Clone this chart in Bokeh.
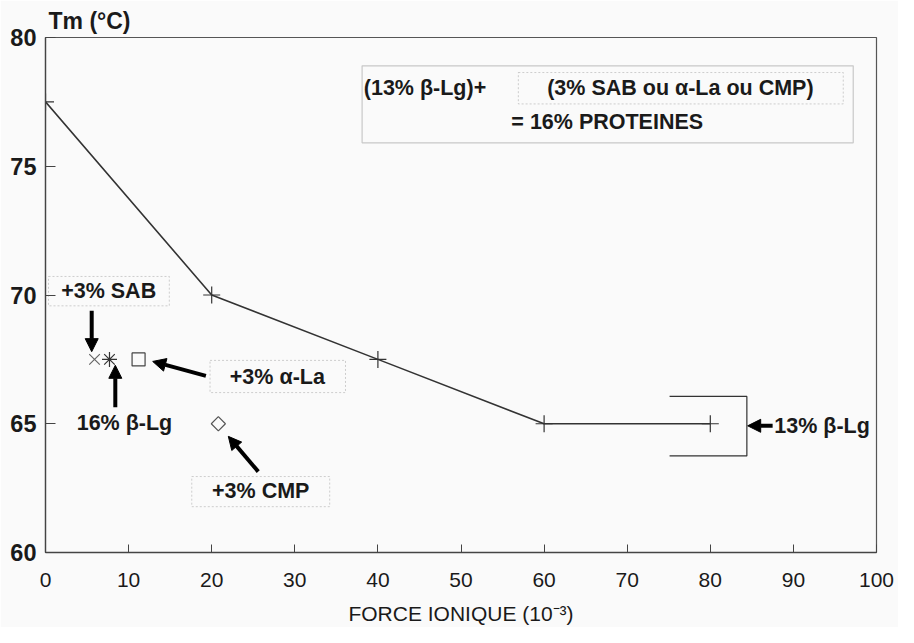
from bokeh.plotting import figure
from bokeh.models import Arrow, NormalHead, Label, FixedTicker, Range1d, BoxAnnotation
from bokeh.embed import file_html
from bokeh.resources import INLINE

# ---- data ----
ionic = [0, 20, 40, 60, 80]
tm = [77.5, 70, 67.5, 65, 65]

sab_x, sab_y = [5.9], [67.5]        # +3% SAB (x)
blg16_x, blg16_y = [7.7], [67.5]    # 16% beta-Lg (asterisk)
ala_x, ala_y = [11.2], [67.5]       # +3% alpha-La (square)
cmp_x, cmp_y = [20.8], [65]         # +3% CMP (diamond)

x_ticks = [0, 10, 20, 30, 40, 50, 60, 70, 80, 90, 100]
y_ticks = [60, 65, 70, 75, 80]

FONT = "Liberation Sans"
INK = "#1a1a1a"
LINE = "#333333"

p = figure(width=898, height=627, x_range=Range1d(0, 100), y_range=Range1d(60, 80),
           output_backend="svg", toolbar_location=None,
           min_border_left=45, min_border_right=22, min_border_top=37, min_border_bottom=75)
p.background_fill_color = "#fafafa"
p.border_fill_color = "#fafafa"
p.outline_line_color = "#555555"
p.outline_line_width = 1.2
p.grid.visible = False

p.title.text = "Tm (°C)"
p.title.align = "left"
p.title.offset = 3
p.title.standoff = 8
p.title.text_font = FONT
p.title.text_font_style = "bold"
p.title.text_font_size = "23px"
p.title.text_color = INK

for ax in (p.xaxis[0], p.yaxis[0]):
    ax.axis_line_color = "#444444"
    ax.axis_line_width = 1.3
    ax.major_tick_line_color = "#444444"
    ax.major_tick_out = 0
    ax.minor_tick_line_color = None
    ax.major_label_text_font = FONT
    ax.major_label_text_color = INK

p.xaxis.ticker = FixedTicker(ticks=x_ticks)
p.xaxis.major_tick_in = 8
p.xaxis.major_label_text_font_size = "21px"
p.xaxis.major_label_standoff = 20
p.xaxis.axis_label = "FORCE IONIQUE (10⁻³)"
p.xaxis.axis_label_text_font = FONT
p.xaxis.axis_label_text_font_style = "normal"
p.xaxis.axis_label_text_font_size = "21px"
p.xaxis.axis_label_text_color = INK
p.xaxis.axis_label_standoff = 12

p.yaxis.ticker = FixedTicker(ticks=y_ticks)
p.yaxis.major_tick_in = 10
p.yaxis.major_label_text_font_size = "23.5px"
p.yaxis.major_label_text_font_style = "bold"
p.yaxis.major_label_standoff = 9

# main curve
p.line(ionic, tm, line_color=LINE, line_width=1.6)
p.scatter(ionic, tm, marker="cross", size=17, line_color=LINE, line_width=1.2)

# single points
p.scatter(sab_x, sab_y, marker="x", size=15, line_color="#666666", line_width=1.2)
p.scatter(blg16_x, blg16_y, marker="asterisk", size=15, line_color="#333333", line_width=1.2)
p.scatter(ala_x, ala_y, marker="square", size=13, fill_color=None, line_color="#444444", line_width=1.2)
p.scatter(cmp_x, cmp_y, marker="square", angle=0.785398, size=10, fill_color=None,
          line_color="#555555", line_width=1.2)

# bracket around 13% beta-Lg
p.line([75.1, 84.4, 84.4, 75.1], [66.06, 66.06, 63.75, 63.75], line_color=LINE, line_width=1.2)

# boxes
solid_boxes = [(38.1, 97.2, 75.91, 78.90)]
dotted_boxes = [(56.9, 96.0, 77.42, 78.64),
                (0.36, 14.9, 69.58, 70.72),
                (19.8, 36.1, 66.21, 67.46),
                (17.6, 34.2, 61.78, 62.95)]
for l, r, b, t in solid_boxes:
    p.add_layout(BoxAnnotation(left=l, right=r, bottom=b, top=t, fill_alpha=0,
                               line_color="#555555", line_width=1.2))
for l, r, b, t in dotted_boxes:
    p.add_layout(BoxAnnotation(left=l, right=r, bottom=b, top=t, fill_alpha=0,
                               line_color="#666666", line_width=1, line_dash="2 2"))

# arrows
arrows = [(5.56, 69.39, 5.56, 67.80),
          (8.40, 65.64, 8.40, 67.27),
          (19.3, 66.86, 12.9, 67.42),
          (25.6, 63.14, 22.0, 64.51),
          (87.5, 64.92, 84.5, 64.92)]
for xs, ys, xe, ye in arrows:
    p.add_layout(Arrow(end=NormalHead(size=13, fill_color="black", line_color="black", line_width=1),
                       x_start=xs, y_start=ys, x_end=xe, y_end=ye,
                       line_color="black", line_width=4))

# texts
texts = [("(13% β-Lg)+", 38.3, 78.03, "left"),
         ("(3% SAB ou α-La ou CMP)", 76.4, 78.03, "center"),
         ("= 16% PROTEINES", 67.6, 76.70, "center"),
         ("+3% SAB", 7.6, 70.15, "center"),
         ("16% β-Lg", 9.5, 65.04, "center"),
         ("+3% α-La", 27.9, 66.82, "center"),
         ("+3% CMP", 25.9, 62.39, "center"),
         ("13% β-Lg", 87.7, 64.92, "left")]
for txt, x, y, al in texts:
    p.add_layout(Label(x=x, y=y, text=txt, text_align=al, text_baseline="middle",
                       text_font=FONT, text_font_style="bold", text_font_size="21.5px",
                       text_color=INK))

open("out.html", "w").write(file_html(p, INLINE))
